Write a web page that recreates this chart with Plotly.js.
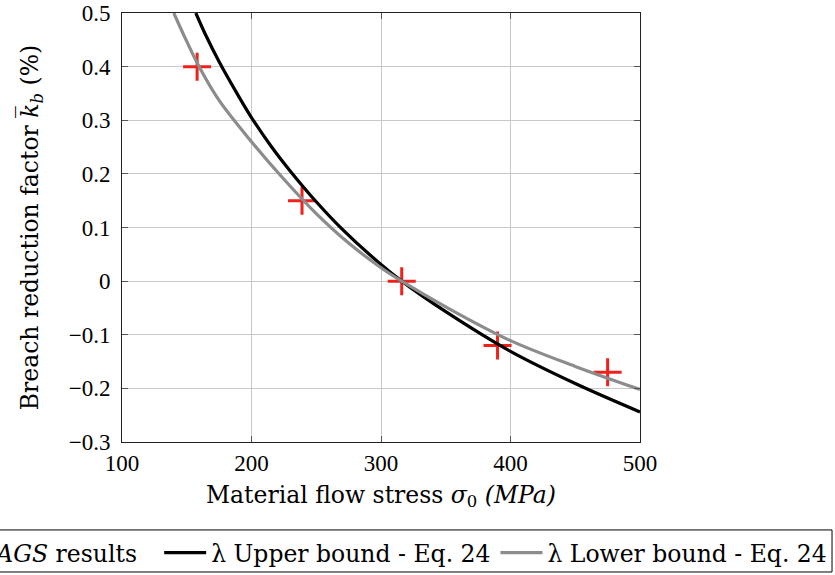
<!DOCTYPE html>
<html>
<head>
<meta charset="utf-8">
<script src="https://cdn.plot.ly/plotly-3.0.1.min.js"></script>
<style>html,body{margin:0;padding:0;background:#fff;}</style>
</head>
<body>
<div id="chart" style="width:835px;height:575px;"></div>
<script>
// FE results (red crosses)
const agsX = [158, 239, 316, 390, 475];
const agsY = [0.40, 0.15, 0.0, -0.12, -0.17];

// Upper bound curve (black)
const upperX = [157, 165, 175, 190, 200, 215, 230, 250, 270, 300, 316, 350, 400, 450, 500];
const upperY = [0.50, 0.457, 0.409, 0.345, 0.305, 0.252, 0.205, 0.148, 0.097, 0.031, 0.0, -0.057, -0.131, -0.191, -0.244];

// Lower bound curve (gray)
const lowerX = [140, 150, 160, 175, 200, 225, 250, 275, 300, 316, 350, 400, 450, 500];
const lowerY = [0.50, 0.447, 0.398, 0.337, 0.260, 0.190, 0.126, 0.071, 0.025, 0.0, -0.048, -0.111, -0.159, -0.202];

const xTicks = [100, 200, 300, 400, 500];
const yTicks = [-0.3, -0.2, -0.1, 0, 0.1, 0.2, 0.3, 0.4, 0.5];

const tickFont = 'Liberation Serif, DejaVu Serif, serif';
const textFont = 'DejaVu Serif, Liberation Serif, serif';

const traces = [
  {
    x: agsX, y: agsY, type: 'scatter', mode: 'markers',
    name: '<i>AGS</i> results', legend: 'legend2',
    marker: {symbol: 'cross-thin', size: 20, color: '#f0201a', line: {color: '#f0201a', width: 3}},
    cliponaxis: false
  },
  {
    x: upperX, y: upperY, type: 'scatter', mode: 'lines',
    name: 'λ Upper bound - Eq. 24',
    line: {color: '#000000', width: 3.2, shape: 'spline'}
  },
  {
    x: lowerX, y: lowerY, type: 'scatter', mode: 'lines',
    name: 'λ Lower bound - Eq. 24',
    line: {color: '#8c8c8c', width: 3.2, shape: 'spline'}
  }
];

const axisCommon = {
  showline: true, mirror: 'allticks', linecolor: '#222', linewidth: 1,
  ticks: 'inside', ticklen: 6, tickcolor: '#555', tickwidth: 1,
  showgrid: true, gridcolor: '#c8c8c8', gridwidth: 1,
  zeroline: false,
  tickfont: {family: tickFont, size: 23, color: '#000'}
};

const legendCommon = {
  orientation: 'h', yanchor: 'top', y: -0.207,
  bgcolor: 'rgba(0,0,0,0)', borderwidth: 0,
  font: {family: textFont, size: 23.5, color: '#000'},
  itemwidth: 42
};

const layout = {
  width: 835, height: 575,
  margin: {l: 122, r: 195, t: 13, b: 133, autoexpand: false},
  paper_bgcolor: '#fff', plot_bgcolor: '#fff',
  font: {family: textFont, color: '#000'},
  showlegend: true,
  xaxis: Object.assign({}, axisCommon, {
    range: [100, 500], tickvals: xTicks, ticktext: xTicks.map(String),
    title: {text: 'Material flow stress <i>σ</i><sub>0</sub> <i>(MPa)</i>', font: {family: textFont, size: 23.5}, standoff: 11}
  }),
  yaxis: Object.assign({}, axisCommon, {
    range: [-0.3, 0.5], tickvals: yTicks,
    ticktext: yTicks.map(v => v === 0 ? '0' : (v < 0 ? '\u2212' + Math.abs(v).toFixed(1) : v.toFixed(1))),
    ticklabelstandoff: 6,
    title: {text: 'Breach reduction factor <i>k\u0305</i><sub><i>b</i></sub> (%)', font: {family: textFont, size: 23.5}, standoff: 23}
  }),
  legend: Object.assign({}, legendCommon, {x: 1.371, xanchor: 'right'}),
  legend2: Object.assign({}, legendCommon, {x: 0.043, xanchor: 'right'}),
  shapes: [
    {type: 'rect', xref: 'paper', yref: 'paper', x0: -0.3, x1: 1.3707, y0: -0.303, y1: -0.205,
     line: {color: '#000', width: 1}, fillcolor: 'rgba(0,0,0,0)', layer: 'above'}
  ]
};

Plotly.newPlot('chart', traces, layout, {displayModeBar: false, staticPlot: true});
</script>
</body>
</html>
